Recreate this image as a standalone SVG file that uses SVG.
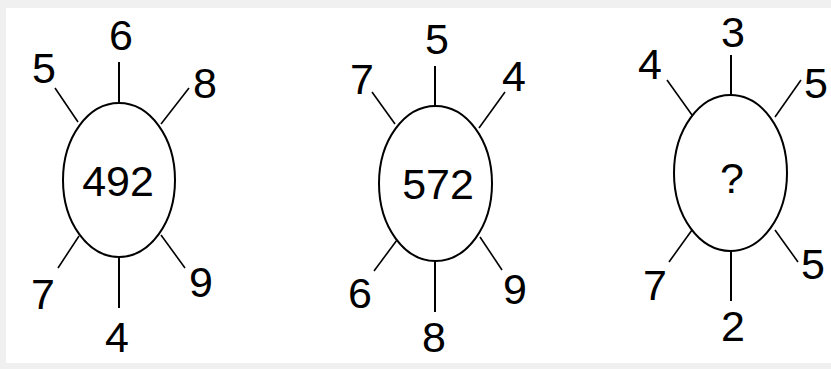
<svg xmlns="http://www.w3.org/2000/svg" width="831" height="369" viewBox="0 0 831 369">
<style>
.o{fill:none;stroke:#000;stroke-width:2}
.s{stroke:#000;stroke-width:2}
.d{stroke:#000;stroke-width:1.6}
text{font-family:"Liberation Sans",Arial,sans-serif;font-size:43px;fill:#000;text-anchor:middle}
</style>
<rect x="0" y="0" width="831" height="369" fill="#f0f0f0"/>
<rect x="6" y="8" width="825" height="355" fill="#fff"/>
<g id="connectors">
<line class="s" x1="119" y1="62" x2="119" y2="103"/>
<line class="s" x1="119" y1="257" x2="119" y2="308"/>
<line class="d" x1="55" y1="88" x2="78" y2="122"/>
<line class="d" x1="189" y1="88" x2="161" y2="124"/>
<line class="d" x1="58" y1="268" x2="79" y2="236"/>
<line class="d" x1="185" y1="268" x2="161" y2="235"/>
<line class="s" x1="435" y1="66" x2="435" y2="106"/>
<line class="s" x1="435" y1="261" x2="435" y2="312"/>
<line class="d" x1="372" y1="92" x2="395" y2="124"/>
<line class="d" x1="505" y1="92" x2="479" y2="128"/>
<line class="d" x1="374" y1="271" x2="397" y2="240"/>
<line class="d" x1="502" y1="270" x2="480" y2="237"/>
<line class="s" x1="731" y1="55" x2="731" y2="95"/>
<line class="s" x1="731" y1="251" x2="731" y2="301"/>
<line class="d" x1="667" y1="80" x2="692" y2="115"/>
<line class="d" x1="801" y1="80" x2="775" y2="117"/>
<line class="d" x1="669" y1="262" x2="692" y2="230"/>
<line class="d" x1="798" y1="262" x2="775" y2="230"/>
</g>
<g id="wheel1">
<ellipse class="o" cx="119" cy="180" rx="56" ry="77"/>
<text x="118" y="196">492</text>
<text x="121" y="50">6</text>
<text x="44" y="83">5</text>
<text x="205" y="98">8</text>
<text x="43" y="309">7</text>
<text x="201" y="297">9</text>
<text x="117" y="352">4</text>
</g>
<g id="wheel2">
<ellipse class="o" cx="435.5" cy="183.5" rx="56.5" ry="77.5"/>
<text x="438" y="199">572</text>
<text x="437" y="54">5</text>
<text x="362" y="94">7</text>
<text x="514" y="91">4</text>
<text x="360" y="308">6</text>
<text x="515" y="304">9</text>
<text x="434" y="352">8</text>
</g>
<g id="wheel3">
<ellipse class="o" cx="730.5" cy="173" rx="56.5" ry="78"/>
<text x="732" y="193">?</text>
<text x="733" y="47">3</text>
<text x="650" y="79">4</text>
<text x="816" y="98">5</text>
<text x="655" y="300">7</text>
<text x="813" y="279">5</text>
<text x="733" y="341">2</text>
</g>
</svg>
